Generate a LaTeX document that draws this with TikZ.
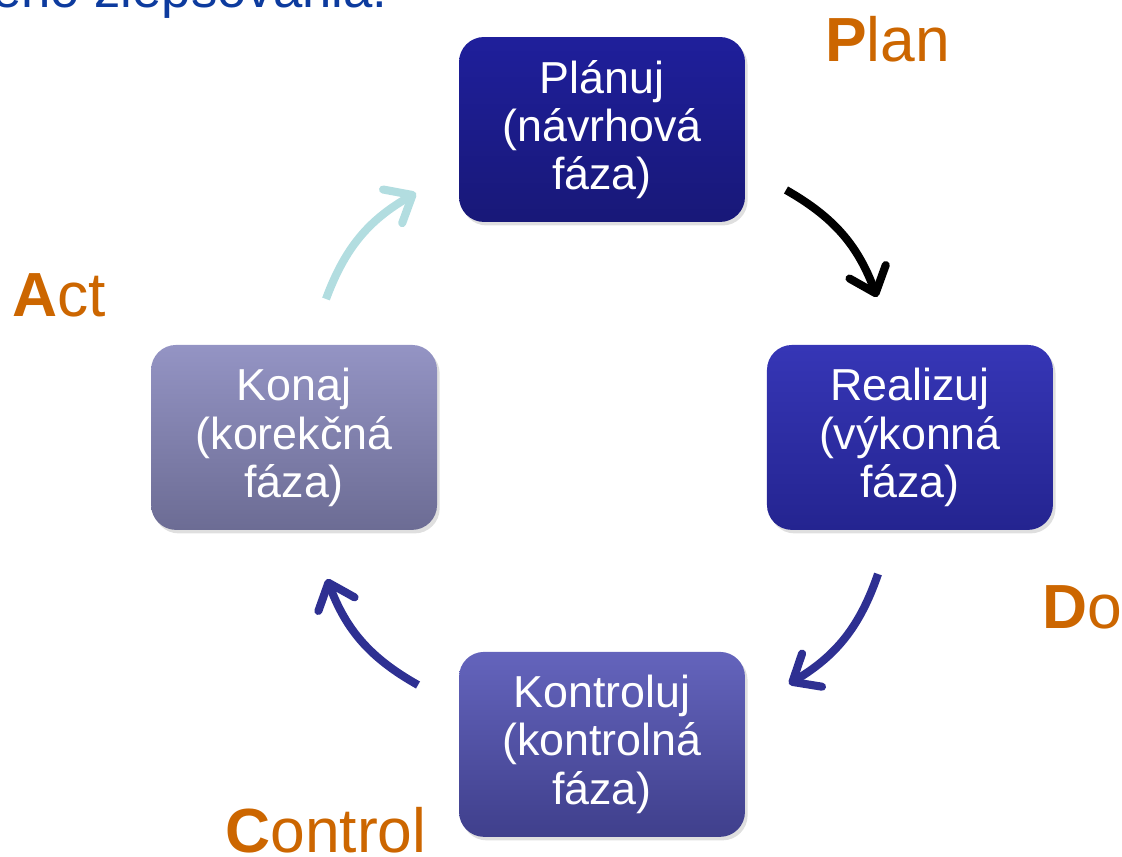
\documentclass[tikz,border=0pt]{standalone}
\usepackage{fontspec}
\setmainfont{Liberation Sans}
\usetikzlibrary{
    positioning,
    arrows.meta,
    shadows
}
\definecolor{pdcaorange}{HTML}{CC6600}
\definecolor{titleblue}{HTML}{0D3B9E}
\definecolor{arrownavy}{HTML}{2E3092}
\definecolor{arrowcyan}{HTML}{B2DDE0}
\tikzset{%
    phase/.style={%
        rectangle,
        rounded corners=0.5cm,
        inner sep = 0pt,
        outer sep = 0pt,
        minimum width=5.72cm,
        minimum height=3.7cm,
        align=center,
        text=white,
        font=\fontsize{25.5}{27.5}\selectfont,
        drop shadow={opacity=0.25, shadow xshift=1.5pt, shadow yshift=-2pt}
    },
    plan phase/.style={%
        phase,
        top color={rgb,255:red,31;green,31;blue,155},
        bottom color={rgb,255:red,24;green,24;blue,120}
    },
    do phase/.style={%
        phase,
        top color={rgb,255:red,54;green,54;blue,182},
        bottom color={rgb,255:red,36;green,36;blue,144}
    },
    check phase/.style={%
        phase,
        top color={rgb,255:red,100;green,100;blue,188},
        bottom color={rgb,255:red,63;green,63;blue,140}
    },
    act phase/.style={%
        phase,
        top color={rgb,255:red,148;green,148;blue,196},
        bottom color={rgb,255:red,108;green,108;blue,148}
    },
    pdca label/.style={%
        anchor=base west,
        inner sep = 0pt,
        text=pdcaorange,
        font=\fontsize{35.5}{40}\selectfont
    },
    cycle arrow/.style={%
        line width=4.6pt,
        -{Straight Barb[length=13pt, width=22pt, round]},
        bend left=20
    },
}

\begin{document}
\begin{tikzpicture}[x=0.02cm, y=-0.02cm]
    \clip (0,0) rectangle (1122,857);

    % cut-off heading
    \node[anchor=base east, inner sep=0pt, text=titleblue,
        font=\fontsize{30}{36}\selectfont] (heading) at (388,8) {neustáleho zlepšovania.};

    % the four phases
    \node[plan phase] (plan) at (602,129.5) {Plánuj\\(návrhová\\fáza)};
    \node[do phase, below right=2.46cm and 0.44cm of plan] (realize) {Realizuj\\(výkonná\\fáza)};
    \node[act phase, below left=2.46cm and 0.44cm of plan] (act) {Konaj\\(korekčná\\fáza)};
    \node[check phase, below=8.6cm of plan] (check) {Kontroluj\\(kontrolná\\fáza)};

    % labels
    \node[pdca label] (planlabel) at (825,62) {\textbf{P}lan};
    \node[pdca label] (dolabel) at (1042,628) {\textbf{D}o};
    \node[pdca label] (checklabel) at (225,852) {\textbf{C}ontrol};
    \node[pdca label] (actlabel) at (12,317) {\textbf{A}ct};

    % arrow ends
    \coordinate (plan out) at (786,190);
    \coordinate (realize in) at (877,297);
    \coordinate (realize out) at (878,574);
    \coordinate (check in) at (789,684);
    \coordinate (check out) at (418,685);
    \coordinate (act in) at (327,579);
    \coordinate (act out) at (326,299);
    \coordinate (plan in) at (416,193);

    \draw[cycle arrow, black] (plan out) to (realize in);
    \draw[cycle arrow, arrownavy] (realize out) to (check in);
    \draw[cycle arrow, arrownavy] (check out) to (act in);
    \draw[cycle arrow, arrowcyan] (act out) to (plan in);
\end{tikzpicture}
\end{document}
